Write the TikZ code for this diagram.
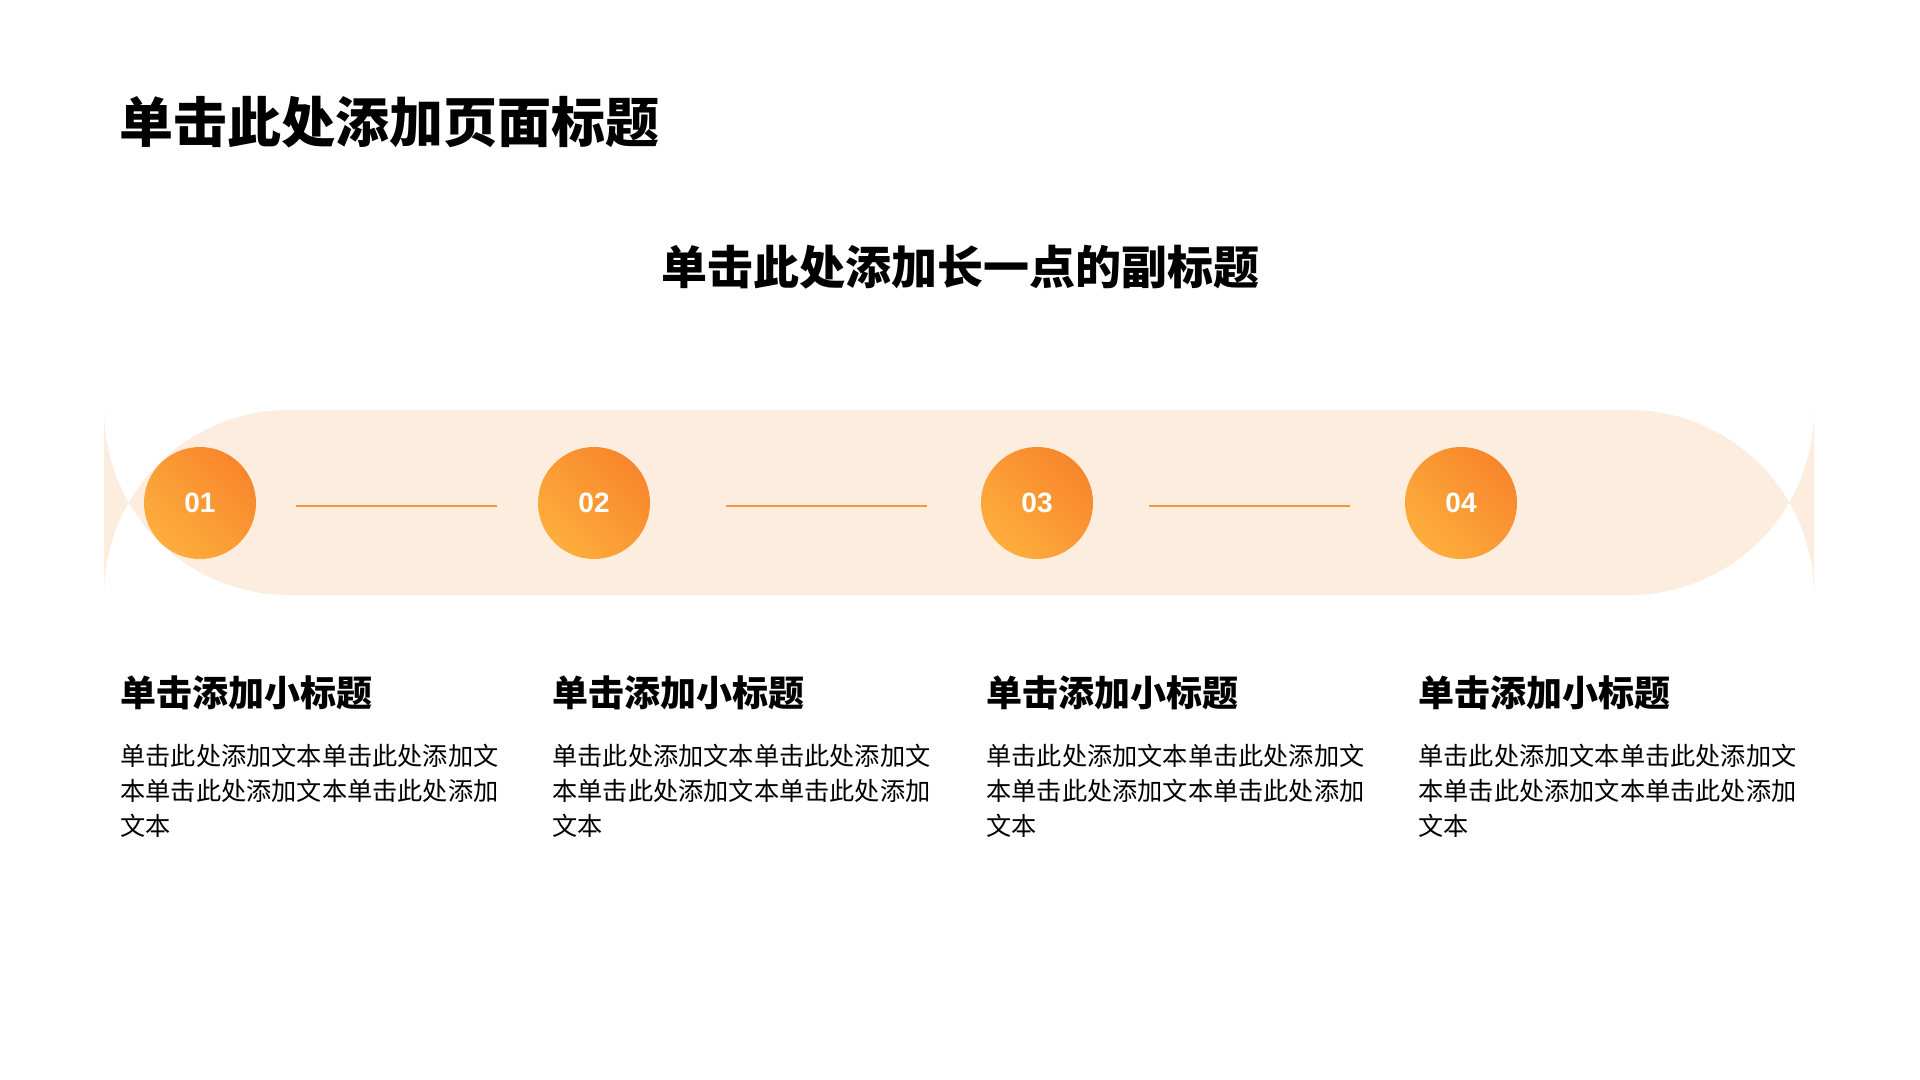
\documentclass[tikz,border=0pt]{standalone}
\usepackage{fontspec}
\setmainfont{Noto Sans CJK SC}
\newfontfamily\numfont{Liberation Sans}
\definecolor{band}{HTML}{FDEDDF}
\definecolor{oa}{HTML}{FDAE3C}
\definecolor{ob}{HTML}{F8862C}
\definecolor{ln}{HTML}{F9953A}
\begin{document}
\begin{tikzpicture}[x=0.5pt,y=-0.5pt,
  num/.style={circle,minimum size=56pt,inner sep=0pt,shading=axis,left color=oa,right color=ob,shading angle=135,text=white,font=\numfont\bfseries\fontsize{14}{14}\selectfont},
  conn/.style={ln,line width=1.2pt},
  sub/.style={anchor=west,font=\bfseries\fontsize{18}{20}\selectfont},
  body/.style={anchor=north west,align=left,inner sep=0pt,font=\fontsize{12.6}{17.5}\selectfont}]
\useasboundingbox (0,0) rectangle (1920,1080);
\fill[white] (0,0) rectangle (1920,1080);
\node[anchor=west,inner sep=0pt,font=\bfseries\fontsize{27}{30}\selectfont] (title) at (119,122) {单击此处添加页面标题};
\node[inner sep=0pt,font=\bfseries\fontsize{23}{26}\selectfont] (subtitle) at (960,267) {单击此处添加长一点的副标题};
\fill[band,rounded corners=92.5pt] (104,410) rectangle (1814,595);
\node[num] (c1) at (200,503) {01};
\node[num] (c2) at (594,503) {02};
\node[num] (c3) at (1037,503) {03};
\node[num] (c4) at (1461,503) {04};
\coordinate (a1) at (296,506); \coordinate (b1) at (497,506);
\coordinate (a2) at (726,506); \coordinate (b2) at (927,506);
\coordinate (a3) at (1149,506); \coordinate (b3) at (1350,506);
\draw[conn] (a1) -- (b1);
\draw[conn] (a2) -- (b2);
\draw[conn] (a3) -- (b3);
\foreach \x/\i in {120/1,552/2,986/3,1418/4}{
  \node[sub,inner sep=0pt] (s\i) at (\x,693) {单击添加小标题};
  \node[body] (t\i) at (\x,744) {单击此处添加文本单击此处添加文\\本单击此处添加文本单击此处添加\\文本};
}
\end{tikzpicture}
\end{document}
